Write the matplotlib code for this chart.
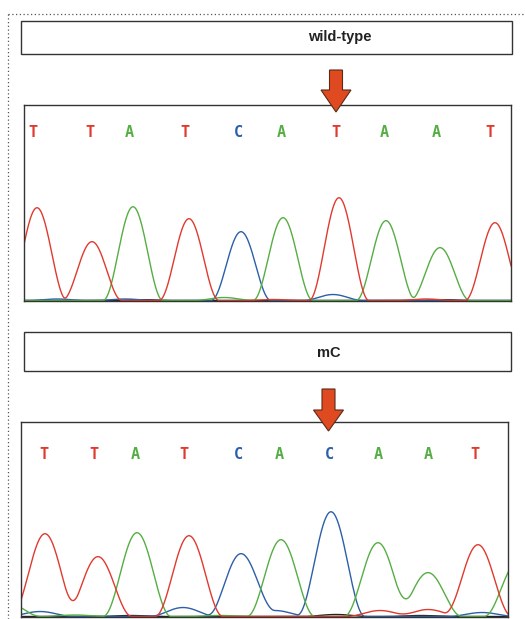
import numpy as np
import matplotlib.pyplot as plt
from matplotlib.patches import Rectangle, Polygon

W, H = 525, 619

# base calls (x in trace units = pixels from panel left)
wt_bases = list("TTATCATAAT")
wt_base_x = [9, 66, 105, 161, 214, 257, 312, 360, 412, 466]
mc_bases = list("TTATCACAAT")
mc_base_x = [23, 73, 114, 163, 217, 258, 308, 357, 407, 454]

# peak centres / heights per channel
wt_T_pos = [13, 68, 165, 315, 471, 402, 249]
wt_T_h = [93, 59, 82, 103, 78, 1.5, 1]
wt_A_pos = [109, 259, 362, 416, 200]
wt_A_h = [94, 83, 80, 53, 3]
wt_C_pos = [217, 33, 101, 309]
wt_C_h = [69, 1.5, 1.5, 6]
wt_G_pos = [120, 420]
wt_G_h = [0.8, 0.8]

mc_T_pos = [24, 77, 168, 457, 359, 407]
mc_T_h = [83, 60, 81, 72, 6, 7]
mc_A_pos = [116, 260, 357, 407, 497, -14, 54, 200]
mc_A_h = [84, 77, 74, 44, 55, 14, 1.5, 1]
mc_C_pos = [220, 310, 19, 162, 254, 461]
mc_C_h = [63, 105, 5, 9, 6, 4]
mc_G_pos = [315, 110, 400]
mc_G_h = [2, 1, 1]

RED, GREEN, BLUE, BLACK = '#e03a2e', '#55ae43', '#2c5fa8', '#222222'
base_col = {'T': RED, 'A': GREEN, 'C': BLUE, 'G': BLACK}


def trace(x, pos, h, hw):
    # cos^2 shaped peaks, like the sequencer's smoothed traces
    y = np.zeros_like(x)
    for p, a in zip(pos, h):
        d = np.abs(x - p)
        y += np.where(d < hw, a * np.cos(np.pi * d / (2 * hw)) ** 2, 0)
    return y


def panel(fig, left, top, width, height, bases, base_x, base_y, chans, hw):
    ax = fig.add_axes([left / W, 1 - (top + height) / H, width / W, height / H])
    x = np.linspace(-5, width + 5, 1500)
    for pos, h, c in chans:
        ax.plot(x, trace(x, pos, h, hw), color=c, lw=1.0)
    for b, bx in zip(bases, base_x):
        ax.text(bx, base_y, b, color=base_col[b], ha='center', va='center',
                fontsize=11, fontweight='bold', family='DejaVu Sans Mono')
    ax.set_xlim(0, width)
    ax.set_ylim(-0.5, height)
    ax.set_xticks([])
    ax.set_yticks([])
    for s in ax.spines.values():
        s.set_color('#333333')
        s.set_linewidth(1.0)
    return ax


fig = plt.figure(figsize=(W / 100, H / 100), dpi=100)

panel(fig, 24, 105, 487, 196, wt_bases, wt_base_x, 168,
      [(wt_G_pos, wt_G_h, BLACK), (wt_C_pos, wt_C_h, BLUE),
       (wt_A_pos, wt_A_h, GREEN), (wt_T_pos, wt_T_h, RED)], 30)
panel(fig, 21, 422, 487, 195, mc_bases, mc_base_x, 162,
      [(mc_G_pos, mc_G_h, BLACK), (mc_C_pos, mc_C_h, BLUE),
       (mc_A_pos, mc_A_h, GREEN), (mc_T_pos, mc_T_h, RED)], 34)

# overlay for boxes, arrows and frame, in pixel coords
ov = fig.add_axes([0, 0, 1, 1], zorder=10)
ov.set_xlim(0, W)
ov.set_ylim(H, 0)
ov.axis('off')
ov.patch.set_alpha(0)

ov.plot([8, W], [14, 14], color='#555555', lw=0.9, ls=(0, (1, 2)))
ov.plot([8, 8], [14, H], color='#555555', lw=0.9, ls=(0, (1, 2)))

ov.add_patch(Rectangle((21, 21), 491, 33, fill=False, ec='#333333', lw=1.0))
ov.text(340, 37.5, 'wild-type', ha='center', va='center', fontsize=10.5,
        fontweight='bold', family='Liberation Sans', color='#222222')
ov.add_patch(Rectangle((24, 332), 487, 39, fill=False, ec='#333333', lw=1.0))
ov.text(329, 353, 'mC', ha='center', va='center', fontsize=10.5,
        fontweight='bold', family='Liberation Sans', color='#222222')


def arrow(cx, top, neck, tip, shaft_w=13, head_w=30):
    pts = [(cx - shaft_w / 2, top), (cx + shaft_w / 2, top), (cx + shaft_w / 2, neck),
           (cx + head_w / 2, neck), (cx, tip), (cx - head_w / 2, neck),
           (cx - shaft_w / 2, neck)]
    ov.add_patch(Polygon(pts, closed=True, fc='#e04a20', ec='#5a2a1a', lw=0.8))


arrow(336, 70, 90, 112)
arrow(328.5, 389, 410, 431)

fig.savefig('out.png', dpi=100)
